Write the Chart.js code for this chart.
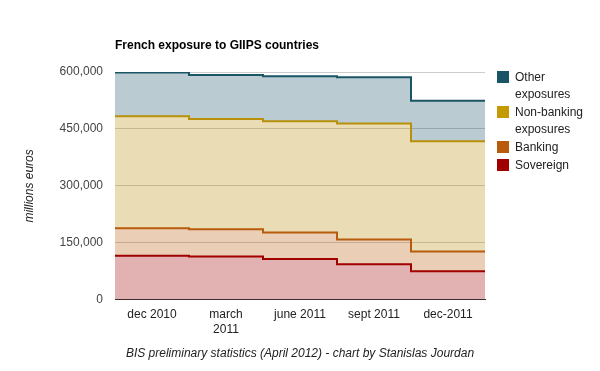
<!DOCTYPE html>
<html>
<head>
<meta charset="utf-8">
<script src="https://cdn.jsdelivr.net/npm/chart.js@4"></script>
<style>
  body { margin: 0; background: #fff; font-family: Arial, "Liberation Sans", sans-serif; }
  #wrap { position: relative; width: 600px; height: 371px; }
  #titre { position: absolute; left: 115px; top: 38px; font-size: 12px; font-weight: bold; color: #000; }
  #legende { position: absolute; left: 497px; top: 69px; font-size: 12px; color: #222; line-height: 17px; }
  #legende div { position: relative; padding-left: 18px; margin-bottom: 1px; }
  #legende span { position: absolute; left: 0; top: 2px; width: 12px; height: 12px; }
</style>
</head>
<body>
<div id="wrap">
  <canvas id="grafica" width="600" height="371"></canvas>
  <div id="titre">French exposure to GIIPS countries</div>
  <div id="legende"></div>
</div>
<script>
// Données (millions d'euros)
const categories = ["dec 2010", ["march", "2011"], "june 2011", "sept 2011", "dec-2011"];
const sovereign  = [116000, 114000, 107500, 93500, 75000];
const banking    = [72500, 72000, 69500, 65000, 52000];
const nonBanking = [295000, 290500, 293500, 306000, 290500];
const other      = [115500, 115500, 118000, 121500, 106500];
const yTicks     = [0, 150000, 300000, 450000, 600000];

const series = [
    { label: ["Other", "exposures"], data: other, line: "#1a5566", swatch: "#1a5566" },
    { label: ["Non-banking", "exposures"], data: nonBanking, line: "#b8900a", swatch: "#c49a00" },
    { label: ["Banking"], data: banking, line: "#b85c0c", swatch: "#b85c0c" },
    { label: ["Sovereign"], data: sovereign, line: "#a00000", swatch: "#a00000" }
];

function hexToRgba(hex, a) {
    const n = parseInt(hex.slice(1), 16);
    return `rgba(${(n >> 16) & 255},${(n >> 8) & 255},${n & 255},${a})`;
}

// un point par trimestre + un point de fermeture pour la dernière marche
function toSteps(values) {
    const pts = values.map((v, i) => ({ x: i, y: v }));
    pts.push({ x: values.length, y: values[values.length - 1] });
    return pts;
}

// légende HTML (texte sur deux lignes comme l'original)
const leg = document.getElementById("legende");
series.forEach(s => {
    const d = document.createElement("div");
    d.innerHTML = `<span style="background:${s.swatch}"></span>${s.label.join("<br>")}`;
    leg.appendChild(d);
});

// ordre d'empilement : souverain en bas
const stackOrder = [...series].reverse();
const datasets = stackOrder.map((s, i) => ({
    label: s.label.join(" "),
    data: toSteps(s.data),
    borderColor: s.line,
    backgroundColor: hexToRgba(s.line, 0.3),
    borderWidth: 2,
    pointRadius: 0,
    stepped: true,
    fill: i === 0 ? "origin" : "-1"
}));

const ctx = document.getElementById("grafica").getContext("2d");
const chart = new Chart(ctx, {
    type: "line",
    data: { datasets: datasets },
    options: {
        responsive: false,
        animation: false,
        layout: { padding: { left: 18, right: 115, top: 72, bottom: 6 } },
        plugins: {
            legend: { display: false },
            tooltip: { enabled: false }
        },
        scales: {
            x: {
                type: "linear",
                min: 0,
                max: categories.length,
                grid: { display: false, drawTicks: false },
                border: { display: true, color: "#333", width: 1 },
                afterBuildTicks: axis => {
                    axis.ticks = categories.map((c, i) => ({ value: i + 0.5 }));
                },
                ticks: {
                    autoSkip: false,
                    maxRotation: 0,
                    padding: 8,
                    color: "#222",
                    font: { family: "Arial, 'Liberation Sans'", size: 12 },
                    callback: (v) => categories[Math.floor(v)]
                },
                title: {
                    display: true,
                    text: "BIS preliminary statistics (April 2012) - chart by Stanislas Jourdan",
                    color: "#222",
                    font: { family: "Arial, 'Liberation Sans'", size: 12, style: "italic" },
                    padding: { top: 2 }
                }
            },
            y: {
                stacked: true,
                min: 0,
                max: 600000,
                afterBuildTicks: axis => {
                    axis.ticks = yTicks.map(v => ({ value: v }));
                },
                afterFit: axis => { axis.width = 97; },
                grid: { color: "#ccc", drawTicks: false },
                border: { display: false },
                ticks: {
                    padding: 12,
                    color: "#444",
                    font: { family: "Arial, 'Liberation Sans'", size: 12 },
                    callback: v => v.toLocaleString("en-US")
                },
                title: {
                    display: true,
                    text: "millions euros",
                    color: "#222",
                    font: { family: "Arial, 'Liberation Sans'", size: 12, style: "italic" },
                    padding: { bottom: 0 }
                }
            }
        }
    }
});
</script>
</body>
</html>
